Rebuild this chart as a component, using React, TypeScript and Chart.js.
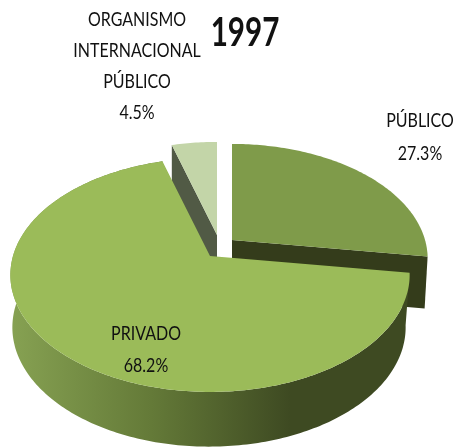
import React, { useEffect, useRef } from "react";
import { Chart, registerables } from "chart.js";

Chart.register(...registerables);

const title = "1997";
const categories = ["PÚBLICO", "PRIVADO", "ORGANISMO\nINTERNACIONAL\nPÚBLICO"];
const values = [27.3, 68.2, 4.5];
const colors = ["#7f9b4a", "#9bbb59", "#c3d5a8"];
const wallColors = ["#343c1b", "#3e4a22", "#515a45"];

// Perspective of the disc on the page
const TILT = 0.162;
const FX = 197;
const FY = 113.9;
const DEPTH = 52;

function project(theta: number, cx: number, cy: number, s: number, bottom = false) {
  const u = Math.sin(theta);
  const v = -Math.cos(theta);
  const d = 1 - TILT * v;
  const w = bottom ? 0.985 : 1;
  return {
    x: cx + (bottom ? -1 : 0) + (s * w * FX * u) / d,
    y: cy + (bottom ? DEPTH : 0) + (s * (bottom ? 1.02 : 1) * FY * v) / d,
  };
}

function arcPoints(a: number, b: number, cx: number, cy: number, s: number, bottom = false) {
  const n = Math.max(8, Math.ceil(Math.abs(b - a) * 60));
  const pts = [];
  for (let i = 0; i <= n; i++) pts.push(project(a + ((b - a) * i) / n, cx, cy, s, bottom));
  return pts;
}

function poly(ctx: CanvasRenderingContext2D, pts: { x: number; y: number }[], fill: string | CanvasGradient) {
  ctx.beginPath();
  pts.forEach((p, i) => (i ? ctx.lineTo(p.x, p.y) : ctx.moveTo(p.x, p.y)));
  ctx.closePath();
  ctx.fillStyle = fill;
  ctx.fill();
}

function drawText(ctx: CanvasRenderingContext2D, s: string, x: number, y: number, font: string, sx: number) {
  ctx.save();
  ctx.translate(x, y);
  ctx.scale(sx, 1);
  ctx.font = font;
  ctx.fillStyle = "#111111";
  ctx.textAlign = "center";
  ctx.textBaseline = "middle";
  ctx.fillText(s, 0, 0);
  ctx.restore();
}

const pie3d = {
  id: "pie3d",
  beforeDatasetsDraw(chart: any) {
    const ctx: CanvasRenderingContext2D = chart.ctx;
    const meta = chart.getDatasetMeta(0);
    const angle = (i: number) => ({
      a: meta.data[i].startAngle + Math.PI / 2,
      b: meta.data[i].endAngle + Math.PI / 2,
      c: meta.data[i].options.backgroundColor,
    });

    // small slice, pulled out
    const o = angle(2);
    const oA = { x: 217, y: 235 };
    const oStart = project(o.a, oA.x, oA.y, 0.95);
    poly(ctx, [oStart, oA, { x: oA.x, y: oA.y + DEPTH }, { x: oStart.x, y: oStart.y + DEPTH }], wallColors[2]);
    poly(ctx, [oA, ...arcPoints(o.a, o.b, oA.x, oA.y, 0.95)], o.c);

    // public slice, pulled out
    const p = angle(0);
    const pA = { x: 232, y: 240 };
    const pScale = 0.98;
    const pEnd = project(p.b, pA.x, pA.y, pScale);
    poly(ctx, [pA, pEnd, { x: pEnd.x - 3, y: pEnd.y + DEPTH }, { x: pA.x, y: pA.y + DEPTH }], wallColors[0]);
    poly(ctx, [pA, ...arcPoints(p.a, p.b, pA.x, pA.y, pScale)], p.c);

    // large slice
    const r = angle(1);
    const rA = { x: 210, y: 256 };
    const top = arcPoints(r.a, r.b, rA.x, rA.y, 1);
    const bot = arcPoints(r.a, r.b, rA.x, rA.y, 1, true);
    const g = ctx.createLinearGradient(12, 0, 290, 0);
    g.addColorStop(0, "#86a152");
    g.addColorStop(0.5, "#647a38");
    g.addColorStop(1, wallColors[1]);
    poly(ctx, [...top, ...bot.reverse()], g);
    poly(ctx, [rA, ...top], r.c);
    return false;
  },
  afterDraw(chart: any) {
    const ctx: CanvasRenderingContext2D = chart.ctx;
    const font = '20px Lato, "Open Sans", sans-serif';
    const sx = 0.8;
    drawText(ctx, title, 245, 33, 'bold 40px Lato, "Open Sans", sans-serif', 0.74);
    const pct = (v: number) => v.toFixed(1) + "%";
    drawText(ctx, categories[0], 420, 121, font, sx);
    drawText(ctx, pct(values[0]), 420, 154, font, sx);
    drawText(ctx, categories[1], 146, 334, font, sx);
    drawText(ctx, pct(values[1]), 146, 366, font, sx);
    const lines = categories[2].split("\n");
    const ys = [20, 51, 82];
    lines.forEach((l, i) => drawText(ctx, l, 137, ys[i], font, sx));
    drawText(ctx, pct(values[2]), 137, 113, font, sx);
  },
};

export default function App() {
  const ref = useRef<HTMLCanvasElement>(null);
  useEffect(() => {
    const chart = new Chart(ref.current!, {
      type: "pie",
      data: {
        labels: categories,
        datasets: [{ data: values, backgroundColor: colors, borderWidth: 0 }],
      },
      options: {
        responsive: false,
        animation: false,
        plugins: { legend: { display: false }, tooltip: { enabled: false } },
      },
      plugins: [pie3d],
    } as any);
    return () => chart.destroy();
  }, []);
  return (
    <canvas
      ref={ref}
      width={459}
      height={448}
      style={{ position: "absolute", left: 0, top: 0, width: 459, height: 448, background: "#fff" }}
    />
  );
}
